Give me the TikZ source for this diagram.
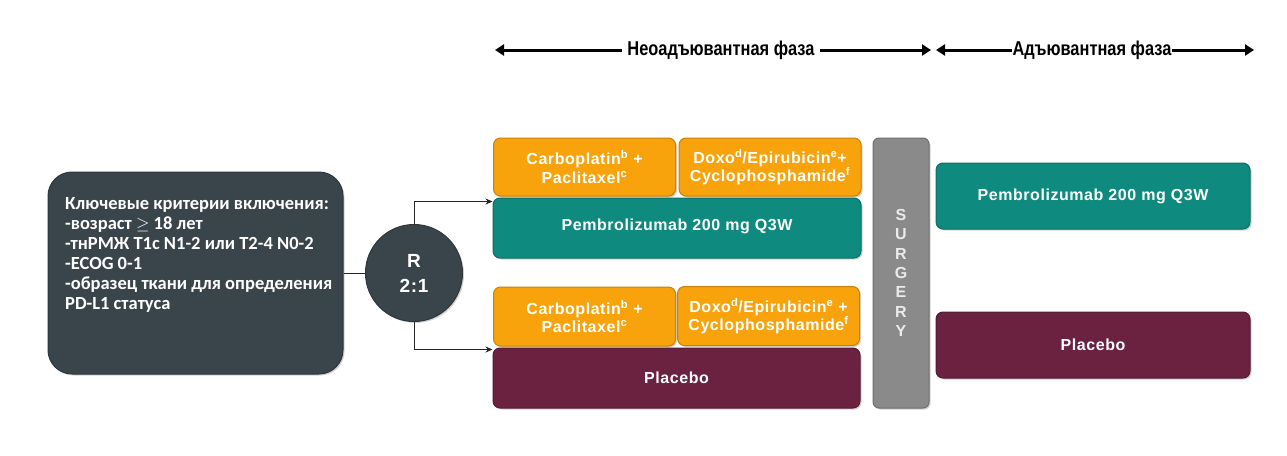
\documentclass[tikz,border=0pt]{standalone}
\usepackage{fontspec}
\setmainfont{Liberation Sans}
\newfontfamily\boxfont{Liberation Sans}[LetterSpace=3.5]
\newfontfamily\critfont{Carlito}
\newfontfamily\phasefont{Liberation Sans}[FakeStretch=0.82]
\usetikzlibrary{arrows.meta,shadows}
\definecolor{cdark}{HTML}{3A444B}
\definecolor{corange}{HTML}{F8A30C}
\definecolor{cteal}{HTML}{0E8B7E}
\definecolor{cplac}{HTML}{6B2241}
\definecolor{cgray}{HTML}{8A8A8A}
\begin{document}
\begin{tikzpicture}[x=1pt,y=-1pt,
  rbox/.style={rounded corners=7pt, draw=#1!80!black, line width=1pt, fill=#1,
     drop shadow={shadow xshift=1.5pt,shadow yshift=-1.5pt,opacity=0.35},
     text=white, align=center, inner sep=0pt,
     font=\boxfont\bfseries\fontsize{16}{18.5}\selectfont},
  conn/.style={draw=black!85, line width=0.8pt},
  phase/.style={line width=3pt, {Triangle[length=9pt,width=11pt]}-{Triangle[length=9pt,width=11pt]}},
  phtext/.style={fill=white, inner sep=5pt, font=\phasefont\bfseries\fontsize{20}{22}\selectfont}
]
\useasboundingbox (0,0) rectangle (1287,455);

% criteria box
\node[rbox=cdark, rounded corners=24pt, minimum width=295, minimum height=202] (crit) at (195.5,273) {};
\node[anchor=north west, text=white, align=left, inner sep=0pt,
      font=\critfont\bfseries\fontsize{18.5}{20}\selectfont] (crittext) at (65,197)
  {Ключевые критерии включения:\\
   -возраст $\geq$ 18 лет\\
   -тнРМЖ T1c N1-2 или T2-4 N0-2\\
   -ECOG 0-1\\
   -образец ткани для определения\\
   PD-L1 статуса};

% randomisation circle
\node[circle, draw=cdark!80!black, line width=1pt, fill=cdark,
      drop shadow={shadow xshift=1.5pt,shadow yshift=-1.5pt,opacity=0.35},
      minimum size=97, inner sep=0pt, text=white, align=center,
      font=\boxfont\bfseries\fontsize{19}{25}\selectfont] (rand) at (414,273) {\raisebox{-2pt}{R}\\\raisebox{-2pt}{2:1}};

% upper arm
\node[rbox=corange, minimum width=182, minimum height=58] (o1) at (584.5,167) {Carboplatin\textsuperscript{b} +\\Paclitaxel\textsuperscript{c}};
\node[rbox=corange, minimum width=182, minimum height=58] (o2) at (770,167) {Doxo\textsuperscript{d}/Epirubicin\textsuperscript{e}+\\Cyclophosphamide\textsuperscript{f}};
\node[rbox=cteal, minimum width=368, minimum height=60] (t1) at (677,228) {\raisebox{6pt}{Pembrolizumab 200 mg Q3W}};

% lower arm
\node[rbox=corange, minimum width=182, minimum height=59] (o3) at (584.5,316.5) {Carboplatin\textsuperscript{b} +\\Paclitaxel\textsuperscript{c}};
\node[rbox=corange, minimum width=182, minimum height=59] (o4) at (768.5,316) {Doxo\textsuperscript{d}/Epirubicin\textsuperscript{e} +\\Cyclophosphamide\textsuperscript{f}};
\node[rbox=cplac, minimum width=367, minimum height=60] (p1) at (676.5,378) {Placebo};

% surgery
\node[rbox=cgray, rounded corners=6pt, minimum width=56, minimum height=270,
      font=\boxfont\bfseries\fontsize{16}{19.3}\selectfont, text=white!92!black] (surg) at (901,273)
  {S\\U\\R\\G\\E\\R\\Y};

% adjuvant arms
\node[rbox=cteal, minimum width=314, minimum height=66] (t2) at (1093,196) {Pembrolizumab 200 mg Q3W};
\node[rbox=cplac, minimum width=314, minimum height=66] (p2) at (1093,345) {Placebo};

% connectors
\draw[conn] (crit.east) -- (rand.west);
\draw[conn, -{Stealth[length=7pt,width=6pt]}] (rand.north) |- ([yshift=-4pt]t1.north west);
\draw[conn, -{Stealth[length=7pt,width=6pt]}] (rand.south) |- ([yshift=-2pt]p1.north west);

% phase arrows
\coordinate (n1) at (495,50);
\coordinate (n2) at (931,50);
\coordinate (a1) at (936,50);
\coordinate (a2) at (1254,50);
\draw[phase] (n1) -- (n2);
\draw[phase] (a1) -- (a2);
\node[phtext] (neo) at (721,50) {Неоадъювантная фаза};
\node[phtext, inner sep=1pt] (adj) at (1092,50) {Адъювантная фаза};
\end{tikzpicture}
\end{document}
